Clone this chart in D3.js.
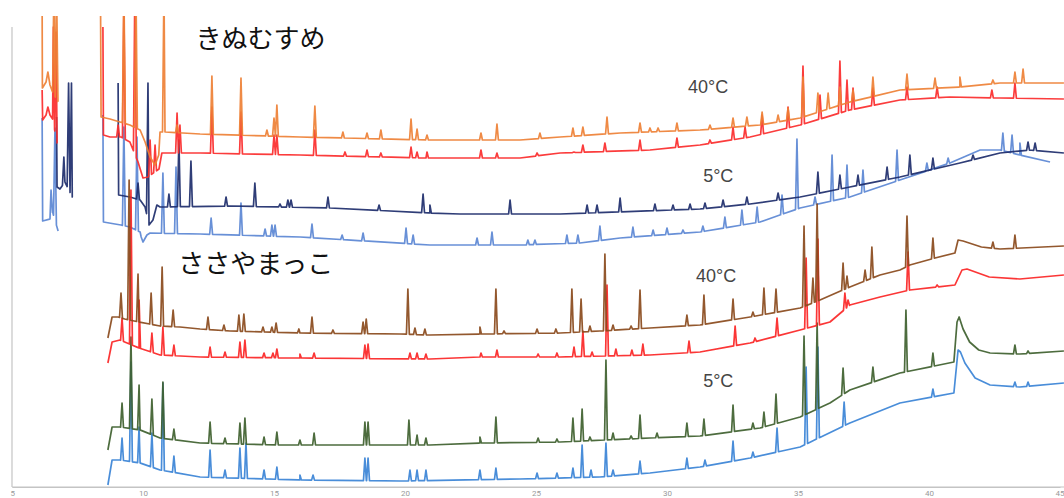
<!DOCTYPE html>
<html>
<head>
<meta charset="utf-8">
<script src="https://cdn.jsdelivr.net/npm/d3@7"></script>
<style>
  body { margin: 0; background: #fff; }
  svg { display: block; }
</style>
</head>
<body>
<div id="chart"></div>
<script>
// Retention time ticks (min)
const timeTicks = [5, 10, 15, 20, 25, 30, 35, 40, 45];

// Baselines: [time, signal]; a null signal marks a gap in the trace
// Peaks: [time, apex signal]

// きぬむすめ 40°C (orange)
const kinu40aBase = [
  [6.15, 480], [6.16, 399], [6.30, 405], [6.37, 415], [6.45, 402], [6.55, 395], [6.76, 385], [6.80, null],
  [8.38, 480], [8.40, 370], [8.74, 368], [9.12, 365], [9.50, 362], [9.89, 357], [10.08, 345], [10.27, 330],
  [10.46, 322], [10.60, 332], [10.65, 355], [10.84, 355], [12.18, 353], [16.0, 350], [20.95, 347],
  [24.39, 347], [25.92, 350], [28.21, 354], [31.26, 357], [33.55, 362], [35.08, 369], [36.98, 385],
  [38.89, 397], [41.18, 400], [42.71, 404], [45.15, 404]
];
const kinu40aPeaks = [
  [6.60, 500], [6.70, 500], [9.27, 500], [9.73, 500], [10.80, 500], [11.30, 362], [12.63, 411], [13.74, 409],
  [14.73, 357], [15.00, 369], [15.11, 382], [16.56, 381], [17.63, 355], [18.55, 354], [19.08, 357],
  [20.23, 368], [20.46, 358], [20.84, 352], [22.90, 354], [23.51, 363], [25.15, 354], [26.41, 359],
  [26.79, 360], [27.71, 370], [28.97, 364], [29.35, 359], [29.66, 359], [30.38, 364], [31.64, 362],
  [32.52, 369], [33.05, 370], [33.63, 375], [34.24, 372], [34.62, 379], [35.19, 410], [35.76, 394],
  [36.15, 394], [36.60, 400], [37.10, 397], [37.86, 410], [39.16, 413], [40.23, 409], [41.18, 410],
  [42.44, 407], [43.28, 415], [43.59, 418]
];

// きぬむすめ 40°C (red)
const kinu40bBase = [
  [6.15, 397], [6.17, 367], [6.30, 372], [6.37, 380], [6.45, 372], [6.55, 368], [6.72, 344], [6.76, null],
  [8.47, 460], [8.49, 352], [8.74, 350], [9.16, 350], [9.50, 345], [9.81, 325], [10.00, 309], [10.19, 310],
  [10.61, 318], [10.72, 334], [12.18, 334], [16.0, 332], [20.8, 329], [24.39, 329], [25.92, 334],
  [29.35, 337], [31.26, 342], [33.17, 350], [35.08, 362], [36.98, 377], [38.89, 387], [40.80, 390],
  [42.71, 389], [45.15, 388]
];
const kinu40bPeaks = [
  [6.58, 460], [6.68, 455], [9.05, 362], [9.27, 480], [9.69, 500], [10.27, 347], [10.46, 342], [11.30, 374],
  [11.41, 362], [12.63, 380], [13.74, 375], [15.00, 352], [15.11, 352], [16.56, 357], [17.71, 335],
  [18.55, 337], [19.08, 334], [20.23, 340], [20.46, 335], [20.84, 335], [22.90, 337], [23.51, 334],
  [25.04, 334], [26.45, 335], [26.79, 342], [27.63, 344], [28.97, 347], [30.38, 349], [31.64, 347],
  [32.52, 360], [32.98, 360], [33.63, 372], [34.62, 380], [35.19, 421], [35.84, 392], [36.60, 426],
  [36.87, 407], [37.10, 399], [37.86, 399], [39.16, 400], [40.31, 400], [42.40, 397], [43.28, 404]
];

// きぬむすめ 5°C (navy)
const kinu5aBase = [
  [6.70, 370], [6.72, 300], [6.83, 298], [7.02, 305], [7.30, 290], [7.34, null],
  [9.05, 404], [9.07, 292], [9.50, 290], [9.89, 287], [10.08, 280], [10.23, 262], [10.38, 267], [10.53, 282],
  [10.65, 280], [13.32, 281], [17.14, 279], [20.95, 274], [22.10, 273], [25.92, 273], [31.26, 278],
  [33.17, 283], [35.08, 290], [36.98, 300], [38.89, 310], [41.18, 324], [42.71, 334], [43.85, 337],
  [45.15, 334]
];
const kinu5aPeaks = [
  [6.98, 330], [7.16, 404], [7.27, 404], [9.81, 304], [10.19, 404], [10.99, 293], [11.37, 347], [11.83, 326],
  [13.17, 290], [14.27, 304], [15.23, 283], [15.53, 287], [15.65, 287], [17.06, 290], [19.01, 282],
  [20.69, 293], [20.95, 282], [24.01, 287], [26.95, 282], [27.33, 282], [28.21, 289], [29.54, 283],
  [30.23, 282], [30.88, 283], [31.45, 284], [32.14, 287], [33.05, 290], [34.24, 294], [35.76, 315],
  [36.60, 312], [37.29, 312], [38.40, 320], [39.27, 332], [40.15, 329], [41.68, 332], [43.78, 345],
  [44.05, 344]
];

// きぬむすめ 5°C (light blue)
const kinu5bBase = [
  [6.15, 369], [6.17, 266], [6.45, 268], [6.55, 275], [6.76, 256], [6.78, null],
  [8.47, 372], [8.49, 265], [8.93, 263], [9.16, 262], [9.50, 260], [9.89, 255], [9.93, 250], [10.00, 245],
  [10.15, 252], [10.27, 254], [12.18, 253], [16.0, 250], [20.95, 242], [24.39, 242], [26.68, 244],
  [28.21, 249], [31.26, 255], [33.55, 265], [35.08, 279], [36.98, 290], [38.89, 307], [40.80, 324],
  [41.95, 337], [42.71, 337], [43.47, 332], [44.62, 325]
];
const kinu5bPeaks = [
  [6.49, 297], [6.64, 359], [9.27, 360], [9.77, 350], [10.76, 314], [11.26, 320], [12.60, 269], [13.74, 284],
  [14.66, 258], [14.92, 262], [15.04, 262], [16.45, 263], [17.60, 252], [18.40, 254], [20.04, 259],
  [20.31, 252], [22.75, 249], [23.32, 255], [24.69, 247], [24.96, 247], [26.18, 252], [26.60, 252],
  [27.44, 261], [28.70, 260], [29.47, 257], [30.00, 259], [30.61, 257], [31.37, 261], [32.21, 270],
  [32.86, 277], [33.44, 280], [34.39, 292], [34.96, 348], [35.65, 290], [36.30, 332], [36.87, 322],
  [37.48, 317], [38.78, 337], [39.92, 324], [40.73, 329], [42.82, 354], [43.17, 352], [43.47, 344]
];

// ささやまっこ 40°C (brown)
const sasa40aBase = [
  [8.66, 149], [8.82, 170], [9.05, 170], [9.30, 168], [9.85, 165], [10.65, 161], [11.41, 160], [12.18, 158],
  [13.32, 156], [15.99, 154], [19.81, 153], [20.95, 152], [22.86, 153], [25.92, 154], [27.44, 156],
  [29.35, 159], [31.26, 162], [33.17, 170], [35.08, 179], [35.84, 187], [36.98, 200], [38.13, 212],
  [38.89, 217], [39.27, 222], [40.23, 229], [40.99, 234], [41.11, 247], [41.30, 246], [42.00, 240],
  [42.71, 238], [45.15, 241]
];
const sasa40aPeaks = [
  [9.16, 194], [9.47, 307], [9.81, 213], [10.31, 194], [10.73, 220], [11.15, 177], [12.48, 170], [13.09, 162],
  [13.66, 172], [13.85, 173], [14.58, 160], [14.92, 160], [15.08, 164], [15.95, 158], [16.45, 170],
  [17.25, 157], [18.40, 165], [18.52, 168], [20.11, 198], [20.38, 159], [20.76, 158], [22.86, 160],
  [23.47, 198], [23.78, 156], [25.04, 158], [25.76, 158], [26.37, 198], [26.72, 188], [27.06, 161],
  [27.63, 233], [27.94, 162], [28.63, 161], [28.97, 197], [30.76, 172], [31.41, 192], [32.52, 188],
  [33.28, 175], [33.70, 199], [34.16, 198], [35.23, 261], [35.57, 209], [35.73, 283], [36.72, 224],
  [36.87, 211], [37.56, 217], [37.82, 240], [39.16, 271], [40.15, 249], [42.44, 245], [43.28, 252]
];

// ささやまっこ 40°C (red)
const sasa40bBase = [
  [8.66, 124], [8.82, 145], [9.12, 147], [9.85, 139], [10.65, 132], [12.18, 130], [15.99, 129], [20.95, 128],
  [22.86, 130], [25.92, 130], [29.35, 132], [31.26, 135], [33.17, 144], [35.08, 157], [36.22, 165],
  [36.98, 182], [38.13, 190], [39.27, 197], [40.99, 202], [41.26, 217], [41.45, 218], [42.30, 210],
  [43.47, 208], [45.15, 212]
];
const sasa40bPeaks = [
  [9.20, 169], [9.54, 297], [9.85, 187], [10.34, 154], [10.76, 160], [11.18, 142], [12.56, 140], [13.13, 135],
  [13.70, 145], [13.89, 147], [14.62, 134], [14.96, 134], [15.11, 138], [15.99, 133], [16.53, 134],
  [18.47, 142], [18.59, 143], [20.19, 134], [20.46, 134], [20.80, 133], [22.90, 134], [23.51, 137],
  [25.08, 133], [25.80, 134], [26.45, 140], [26.79, 156], [27.14, 135], [27.71, 202], [28.05, 138],
  [28.66, 137], [29.08, 143], [30.84, 146], [32.60, 161], [33.36, 149], [34.20, 169], [35.31, 229],
  [35.76, 248], [36.79, 194], [36.91, 187], [39.20, 235], [40.31, 202]
];

// ささやまっこ 5°C (green)
const sasa5aBase = [
  [8.66, 37], [8.82, 60], [9.12, 60], [9.89, 57], [10.65, 49], [12.18, 44], [15.23, 42], [20.95, 42],
  [22.86, 44], [25.92, 45], [29.35, 49], [31.26, 51], [33.55, 59], [35.08, 70], [36.22, 84], [36.98, 97],
  [38.89, 114], [40.95, 125], [41.07, 165], [41.15, 170], [41.30, 158], [41.55, 145], [41.90, 137],
  [42.33, 134], [43.47, 133], [45.15, 136]
];
const sasa5aPeaks = [
  [9.20, 84], [9.54, 150], [9.85, 102], [10.34, 88], [10.76, 105], [11.18, 58], [12.56, 65], [13.13, 49],
  [13.70, 64], [13.89, 69], [14.62, 50], [15.11, 55], [15.99, 47], [16.53, 54], [18.47, 65], [18.59, 65],
  [20.15, 67], [20.46, 52], [20.80, 49], [22.86, 50], [23.47, 70], [25.08, 49], [25.80, 48], [26.41, 69],
  [26.76, 78], [27.06, 50], [27.67, 127], [27.94, 54], [28.63, 51], [28.97, 72], [29.62, 54], [30.76, 64],
  [31.41, 68], [32.52, 82], [33.28, 64], [33.70, 75], [34.16, 93], [35.23, 151], [35.73, 164], [36.72, 119],
  [37.86, 120], [39.12, 177], [40.15, 134], [43.28, 142], [43.78, 136]
];

// ささやまっこ 5°C (blue)
const sasa5bBase = [
  [8.66, 2], [8.82, 27], [9.12, 27], [9.89, 24], [10.65, 17], [12.18, 10], [15.99, 7], [19.81, 6], [24.39, 8],
  [27.44, 10], [29.35, 14], [31.26, 20], [33.17, 29], [35.08, 40], [36.98, 64], [38.89, 84], [40.95, 94],
  [41.11, 137], [41.20, 135], [41.37, 124], [41.76, 109], [42.33, 102], [43.47, 100], [45.15, 104]
];
const sasa5bPeaks = [
  [9.20, 49], [9.54, 125], [9.85, 60], [10.34, 54], [10.76, 104], [11.18, 31], [12.56, 37], [13.13, 17],
  [13.70, 39], [13.93, 44], [14.62, 17], [15.11, 20], [15.99, 12], [16.49, 12], [18.47, 29], [18.59, 29],
  [20.19, 17], [20.46, 17], [20.80, 17], [22.86, 17], [23.47, 19], [25.04, 14], [25.80, 14], [26.41, 19],
  [26.76, 42], [27.10, 17], [27.67, 44], [27.94, 17], [28.97, 26], [30.76, 29], [31.45, 27], [32.52, 46],
  [33.28, 35], [34.20, 59], [35.31, 120], [35.76, 140], [36.76, 85], [40.15, 98], [43.28, 105], [43.78, 105]
];

// Text labels
const sampleLabels = [
  { text: 'きぬむすめ', t: 12.0, v: 439 },
  { text: 'ささやまっこ', t: 11.35, v: 214 }
];
const tempLabels = [
  { text: '40°C', t: 30.80, v: 394 },
  { text: '5°C', t: 31.38, v: 305 },
  { text: '40°C', t: 31.11, v: 205 },
  { text: '5°C', t: 31.38, v: 100 }
];

const W = 1064, H = 498;
const margin = { left: 12, right: 4, top: 16, bottom: 11 };

const svg = d3.select('#chart').append('svg')
  .attr('width', W)
  .attr('height', H);

const x = d3.scaleLinear().domain([5, 45]).range([margin.left, 1060]);
const y = d3.scaleLinear().domain([0, 471]).range([H - margin.bottom, margin.top]);

// Clip traces to the plot area
svg.append('clipPath').attr('id', 'plot-clip')
  .append('rect')
  .attr('x', margin.left)
  .attr('y', margin.top)
  .attr('width', W - margin.left)
  .attr('height', y(0) - margin.top);

// Axes
const xAxis = svg.append('g')
  .attr('transform', `translate(0, ${y(0)})`)
  .call(d3.axisBottom(x).tickValues(timeTicks).tickSize(0).tickPadding(3).tickSizeOuter(0));
xAxis.select('.domain').attr('stroke', '#c4c4c4').attr('stroke-width', 1.2);
xAxis.selectAll('text')
  .attr('fill', '#9a9a9a')
  .style('font-family', 'Roboto, sans-serif')
  .style('font-size', '8px');
// keep the outer labels inside the frame
xAxis.selectAll('.tick')
  .filter(d => d === 5).select('text').attr('text-anchor', 'start').attr('dx', -2);
xAxis.selectAll('.tick')
  .filter(d => d === 45).select('text').attr('text-anchor', 'end').attr('dx', 4);

svg.append('line')
  .attr('x1', x(5)).attr('x2', W)
  .attr('y1', y(0)).attr('y2', y(0))
  .attr('stroke', '#c4c4c4').attr('stroke-width', 1.2);

svg.append('line')
  .attr('x1', x(5)).attr('x2', x(5))
  .attr('y1', y(0)).attr('y2', y(460))
  .attr('stroke', '#c4c4c4').attr('stroke-width', 1.2);

// Baseline value at time t (gap markers are skipped)
function baseAt(base, t) {
  for (let i = 0; i < base.length - 1; i++) {
    const [t0, v0] = base[i], [t1, v1] = base[i + 1];
    if (t >= t0 && t <= t1) {
      if (v0 == null) return v1;
      if (v1 == null) return v0;
      return v0 + (v1 - v0) * (t - t0) / (t1 - t0);
    }
  }
  return base[base.length - 1][1];
}

// Baseline knots plus each peak as foot / apex / foot
function tracePoints(base, peaks) {
  const w = 0.055;
  const pts = base.map(d => ({ t: d[0], v: d[1] }));
  peaks.forEach(([t, top]) => {
    pts.push({ t: t - w, v: baseAt(base, t - w) });
    pts.push({ t: t, v: top });
    pts.push({ t: t + w, v: baseAt(base, t + w) });
  });
  return pts.sort((a, b) => a.t - b.t);
}

const traces = [
  { base: kinu5bBase, peaks: kinu5bPeaks, color: '#5b87d4' },
  { base: kinu5aBase, peaks: kinu5aPeaks, color: '#1d2c6b' },
  { base: kinu40bBase, peaks: kinu40bPeaks, color: '#fb2b2b' },
  { base: kinu40aBase, peaks: kinu40aPeaks, color: '#ee8035' },
  { base: sasa5bBase, peaks: sasa5bPeaks, color: '#3a83d6' },
  { base: sasa5aBase, peaks: sasa5aPeaks, color: '#3e5f2e' },
  { base: sasa40bBase, peaks: sasa40bPeaks, color: '#fb2525' },
  { base: sasa40aBase, peaks: sasa40aPeaks, color: '#8a4a1c' }
];

const line = d3.line()
  .defined(d => d.v != null)
  .x(d => x(d.t))
  .y(d => y(d.v));

svg.append('g')
  .attr('clip-path', 'url(#plot-clip)')
  .selectAll('path')
  .data(traces)
  .join('path')
  .attr('d', d => line(tracePoints(d.base, d.peaks)))
  .attr('fill', 'none')
  .attr('stroke', d => d.color)
  .attr('stroke-width', 1.7)
  .attr('stroke-opacity', 0.92)
  .attr('stroke-linejoin', 'round');

// Sample names
svg.selectAll('.sample-label')
  .data(sampleLabels)
  .join('text')
  .attr('class', 'sample-label')
  .attr('x', d => x(d.t))
  .attr('y', d => y(d.v))
  .attr('fill', '#111')
  .style('font-family', '"Noto Sans CJK JP", sans-serif')
  .style('font-size', '26px')
  .text(d => d.text);

// Storage temperature labels
svg.selectAll('.temp-label')
  .data(tempLabels)
  .join('text')
  .attr('class', 'temp-label')
  .attr('x', d => x(d.t))
  .attr('y', d => y(d.v))
  .attr('fill', '#454545')
  .style('font-family', '"Liberation Sans", Arial, sans-serif')
  .style('font-size', '18px')
  .text(d => d.text);
</script>
</body>
</html>
